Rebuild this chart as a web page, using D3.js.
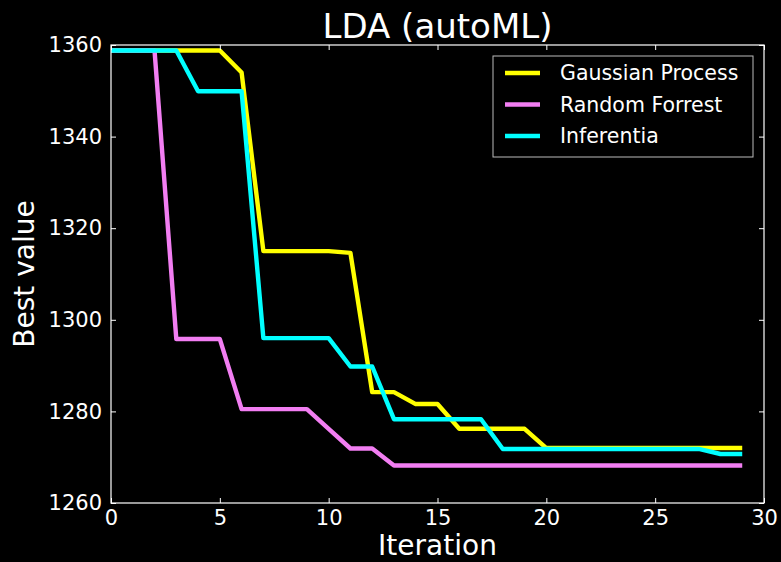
<!DOCTYPE html>
<html>
<head>
<meta charset="utf-8">
<script src="https://cdn.jsdelivr.net/npm/d3@7"></script>
<style>
  body { margin: 0; background: black; }
  svg { display: block; background: black; font-family: "DejaVu Sans", sans-serif; }
</style>
</head>
<body>
<svg id="chart" width="781" height="562"></svg>
<script>
const iterations = d3.range(0, 30);
const x_ticks = [0, 5, 10, 15, 20, 25, 30];
const y_ticks = [1260, 1280, 1300, 1320, 1340, 1360];

const series_names = ["Gaussian Process", "Random Forrest", "Inferentia"];
const series_colors = ["#ffff00", "#f27ef2", "#00ffff"];

const gaussian_process = [1358.8, 1358.8, 1358.8, 1358.8, 1358.8, 1358.8, 1354.0, 1315.0, 1315.0, 1315.0,
                          1315.0, 1314.6, 1284.2, 1284.2, 1281.6, 1281.6, 1276.2, 1276.2, 1276.2, 1276.2,
                          1272.0, 1272.0, 1272.0, 1272.0, 1272.0, 1272.0, 1272.0, 1272.0, 1272.0, 1272.0];
const random_forrest   = [1358.8, 1358.8, 1358.8, 1295.8, 1295.8, 1295.8, 1280.5, 1280.5, 1280.5, 1280.5,
                          1276.2, 1271.9, 1271.9, 1268.2, 1268.2, 1268.2, 1268.2, 1268.2, 1268.2, 1268.2,
                          1268.2, 1268.2, 1268.2, 1268.2, 1268.2, 1268.2, 1268.2, 1268.2, 1268.2, 1268.2];
const inferentia       = [1358.8, 1358.8, 1358.8, 1358.8, 1349.9, 1349.9, 1349.9, 1296.0, 1296.0, 1296.0,
                          1296.0, 1289.8, 1289.8, 1278.3, 1278.3, 1278.3, 1278.3, 1278.3, 1271.8, 1271.8,
                          1271.8, 1271.8, 1271.8, 1271.8, 1271.8, 1271.8, 1271.8, 1271.8, 1270.7, 1270.7];

const all_series = [gaussian_process, random_forrest, inferentia];

const margin = {left: 111, right: 17, top: 45, bottom: 59};
const TOTAL_WIDTH = 781, TOTAL_HEIGHT = 562;
const width = TOTAL_WIDTH - margin.left - margin.right;
const height = TOTAL_HEIGHT - margin.top - margin.bottom;

const xScale = d3.scaleLinear().domain([0, 30]).range([0, width]);
const yScale = d3.scaleLinear().domain([1260, 1360]).range([height, 0]);

const svg = d3.select("#chart");
const g = svg.append("g")
    .attr("transform", `translate(${margin.left}, ${margin.top})`);

// lines
const line = d3.line()
    .x((d, i) => xScale(iterations[i]))
    .y(d => yScale(d));

g.selectAll(".series")
    .data(all_series)
    .enter()
    .append("path")
    .attr("class", "series")
    .attr("d", d => line(d))
    .attr("fill", "none")
    .attr("stroke", (d, i) => series_colors[i])
    .attr("stroke-width", 4.4)
    .attr("stroke-linejoin", "round");

// axes, ticks inward on all four sides
const tickLen = 5;
const styleAxis = (sel, showText) => {
    sel.attr("font-family", null).attr("font-size", null);
    sel.select(".domain").remove();
    sel.selectAll(".tick line").attr("stroke", "white").attr("stroke-width", 1);
    sel.selectAll(".tick text")
        .attr("fill", "white")
        .attr("font-family", "DejaVu Sans")
        .attr("font-size", 21)
        .style("display", showText ? null : "none");
};

g.append("g")
    .attr("transform", `translate(0, ${height})`)
    .call(d3.axisBottom(xScale).tickValues(x_ticks).tickFormat(d3.format("d")).tickSizeInner(-tickLen).tickSizeOuter(0).tickPadding(7))
    .call(sel => styleAxis(sel, true));
g.append("g")
    .call(d3.axisTop(xScale).tickValues(x_ticks).tickSizeInner(-tickLen).tickSizeOuter(0))
    .call(sel => styleAxis(sel, false));
g.append("g")
    .call(d3.axisLeft(yScale).tickValues(y_ticks).tickFormat(d3.format("d")).tickSizeInner(-tickLen).tickSizeOuter(0).tickPadding(9))
    .call(sel => styleAxis(sel, true));
g.append("g")
    .attr("transform", `translate(${width}, 0)`)
    .call(d3.axisRight(yScale).tickValues(y_ticks).tickSizeInner(-tickLen).tickSizeOuter(0))
    .call(sel => styleAxis(sel, false));

g.append("rect")
    .attr("width", width)
    .attr("height", height)
    .attr("fill", "none")
    .attr("stroke", "white")
    .attr("stroke-width", 1.2);

// labels
g.append("text")
    .text("LDA (autoML)")
    .attr("x", width / 2)
    .attr("y", -7)
    .attr("text-anchor", "middle")
    .attr("font-size", 34)
    .attr("fill", "white");

g.append("text")
    .text("Iteration")
    .attr("x", width / 2)
    .attr("y", height + 52)
    .attr("text-anchor", "middle")
    .attr("font-size", 28)
    .attr("fill", "white");

g.append("text")
    .text("Best value")
    .attr("transform", "rotate(-90)")
    .attr("x", -height / 2)
    .attr("y", -77)
    .attr("text-anchor", "middle")
    .attr("font-size", 28)
    .attr("fill", "white");

// legend
const legend = g.append("g")
    .attr("transform", `translate(${493 - margin.left}, ${56 - margin.top})`);
legend.append("rect")
    .attr("width", 260)
    .attr("height", 101)
    .attr("fill", "black")
    .attr("stroke", "#bbbbbb")
    .attr("stroke-width", 1);

const legend_item = legend.selectAll(".item")
    .data(series_names)
    .enter()
    .append("g")
    .attr("class", "item")
    .attr("transform", (d, i) => `translate(0, ${17 + i * 31.5})`);
legend_item.append("line")
    .attr("x1", 12).attr("x2", 47)
    .attr("stroke", (d, i) => series_colors[i])
    .attr("stroke-width", 4.4);
legend_item.append("text")
    .text(d => d)
    .attr("x", 67)
    .attr("y", 0)
    .attr("dy", "0.36em")
    .attr("font-size", 20.5)
    .attr("fill", "white");
</script>
</body>
</html>
